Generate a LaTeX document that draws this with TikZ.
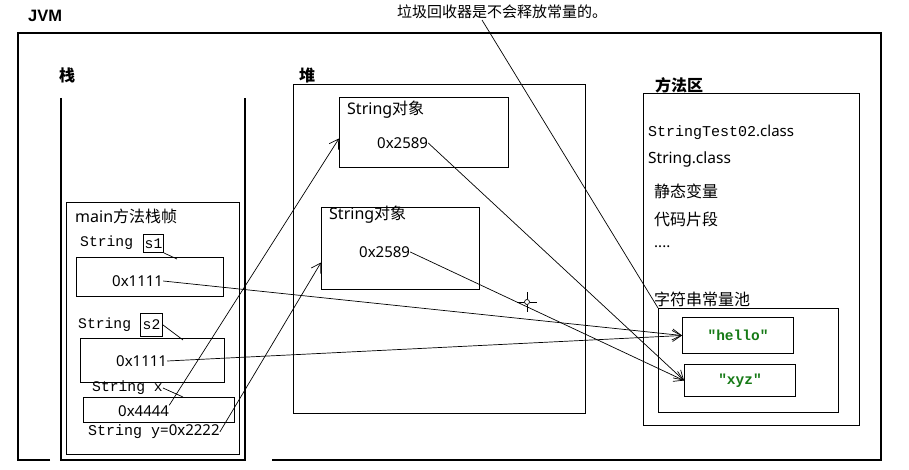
\documentclass[tikz,border=0pt]{standalone}
\usepackage{fontspec}
\setmainfont{Noto Sans}
\setmonofont{Liberation Mono}
\newfontfamily\zh{Noto Sans CJK SC}
\newfontfamily\lsans{Liberation Sans}
\usetikzlibrary{arrows.meta}
\definecolor{litgreen}{RGB}{22,122,22}

\tikzset{
  frame/.style={draw, line width=1.1pt},
  box/.style={draw, line width=1pt, inner sep=0pt, anchor=north west},
  txt/.style={inner sep=0pt, anchor=west, font=\fontsize{15}{18}\selectfont},
  txtb/.style={inner sep=0pt, anchor=west, font=\fontsize{16}{19}\selectfont},
  zhtxt/.style={inner sep=0pt, anchor=west, font=\zh\fontsize{16}{19}\selectfont},
  head/.style={inner sep=0pt, anchor=west, font=\zh\bfseries\fontsize{16}{19}\selectfont},
  mono/.style={inner sep=0pt, anchor=west, font=\fontsize{14.7}{18}\selectfont\ttfamily},
  lit/.style={font=\fontsize{14.5}{18}\selectfont\ttfamily\bfseries, text=litgreen},
  link/.style={line width=0.7pt},
  ref/.style={line width=0.7pt, -{Straight Barb[length=9pt,width=11pt,line width=0.7pt]}},
}

\begin{document}
\begin{tikzpicture}[x=1pt, y=-1pt]
\path[fill=white] (0,0) rectangle (909,470);
\useasboundingbox (0,0) rectangle (909,470);

% ---------- JVM frame ----------
\node[inner sep=0pt, anchor=west, font=\lsans\bfseries\fontsize{16.5}{20}\selectfont] (jvm) at (28,16) {JVM};
\draw[frame] (50,460) -- (18,460) -- (18,33) -- (881,33) -- (881,460) -- (272,460);

% ---------- note ----------
\node[inner sep=0pt, anchor=west, font=\zh\fontsize{15}{18}\selectfont] (note) at (397,12) {垃圾回收器是不会释放常量的。};

% ---------- stack ----------
\node[head] (stackT) at (59,75) {栈};
\draw[frame] (61,98) -- (61,460) -- (245,460) -- (245,98);
\node[box, minimum width=173pt, minimum height=252pt] (frameB) at (66,202) {};
\node[txtb] (frameT) at (75,216) {main\zh 方法栈帧};

\node[mono] (lab1) at (80,243) {String};
\node[box, font=\fontsize{14.7}{18}\selectfont\ttfamily, minimum width=20pt, minimum height=18pt] (s1) at (143,234) {s1};
\node[box, minimum width=147pt, minimum height=39pt] (v1box) at (76,257) {};
\node[txt] (v1) at (112,281) {0x1111};

\node[mono] (lab2) at (78,325) {String};
\node[box, font=\fontsize{14.7}{18}\selectfont\ttfamily, minimum width=22pt, minimum height=23pt] (s2) at (140,313) {s2};
\node[box, minimum width=144pt, minimum height=44pt] (v2box) at (80,338) {};
\node[txt] (v2) at (116,361) {0x1111};

\node[mono] (labx) at (92,388) {String x};
\node[box, minimum width=151pt, minimum height=25pt] (v3box) at (83,397) {};
\node[txt] (v3) at (118,411) {0x4444};

\node[txt] (laby) at (88,432) {\ttfamily String y\normalfont=0x2222};

\coordinate (s1end) at (177,259);
\coordinate (s2end) at (183,340);
\coordinate (xend) at (183,397);
\draw[link] (s1.south east) -- (s1end);
\draw[link] (s2.east) -- (s2end);
\draw[link] (labx.east) -- (xend);

% ---------- heap ----------
\node[head] (heapT) at (299,75) {堆};
\node[box, minimum width=292pt, minimum height=329pt] (heap) at (293,84) {};
\node[box, minimum width=169pt, minimum height=70pt] (obj1) at (339,97) {};
\node[txtb] (o1t) at (347,110) {String\zh 对象};
\node[txt] (o1v) at (377,143) {0x2589};
\node[box, minimum width=158pt, minimum height=82pt] (obj2) at (321,207) {};
\node[txtb] (o2t) at (329,215) {String\zh 对象};
\node[txt] (o2v) at (359,252) {0x2589};

% ---------- method area ----------
\node[head] (methT) at (655,85) {方法区};
\node[box, minimum width=216pt, minimum height=332pt] (meth) at (643,93) {};
\node[txt] (cls1) at (648,132) {\ttfamily StringTest02\normalfont.class};
\node[txt, font=\fontsize{15.5}{18}\selectfont] (cls2) at (648,159) {String.class};
\node[zhtxt] (mv1) at (654,191) {静态变量};
\node[zhtxt] (mv2) at (654,219) {代码片段};
\node[txt] (mv3) at (654,247) {....};
\node[zhtxt] (poolT) at (654,299) {字符串常量池};
\node[box, minimum width=180pt, minimum height=104pt] (pool) at (658,308) {};
\node[box, lit, minimum width=111pt, minimum height=36pt] (hello) at (682,317) {"hello"};
\node[box, lit, minimum width=111pt, minimum height=32pt] (xyz) at (684,364) {"xyz"};

% ---------- references ----------
\draw[ref] (v1.east) -- (hello.west);
\draw[ref] (v2.east) -- (hello.west);
\draw[ref] (v3.north east) -- ([yshift=-6pt]obj1.west);
\draw[ref] (laby.east) -- ([yshift=-14pt]obj2.west);
\draw[ref] (o1v.east) -- (xyz.west);
\draw[ref] (o2v.east) -- (xyz.west);

% note leader
\coordinate (noteFoot) at (482,20);
\draw[link] (noteFoot) -- (pool.north west);

% crosshair marker
\coordinate (cur) at (527,302);
\draw[line width=0.7pt] (cur) circle (2.5pt);
\draw[line width=0.7pt] ([yshift=3pt]cur) -- ([yshift=10pt]cur);
\draw[line width=0.7pt] ([yshift=-3pt]cur) -- ([yshift=-10pt]cur);
\draw[line width=0.7pt] ([xshift=3pt]cur) -- ([xshift=10pt]cur);
\draw[line width=0.7pt] ([xshift=-3pt]cur) -- ([xshift=-10pt]cur);
\end{tikzpicture}
\end{document}
